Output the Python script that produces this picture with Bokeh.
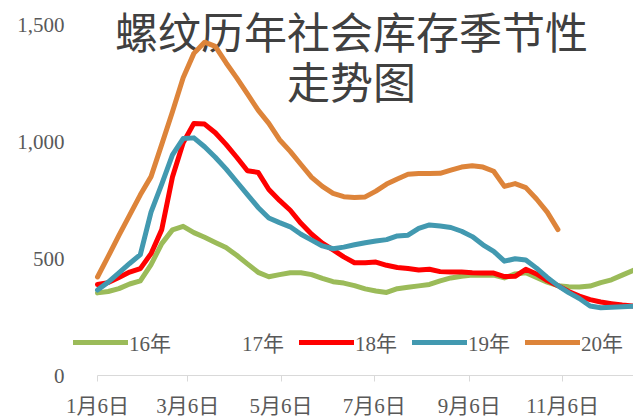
from bokeh.plotting import figure
from bokeh.models import Range1d, FixedTicker, Legend, LegendItem, Label
from bokeh.embed import file_html
from bokeh.resources import INLINE

# ---- data (weekly, days since 1月6日) ----
weeks = list(range(51))
days = [7 * w for w in weeks]

s16 = [354, 360, 372, 392, 405, 475, 565, 624, 639, 612, 592, 570, 548, 515, 478, 442,
       423, 432, 440, 440, 432, 416, 402, 396, 385, 371, 362, 356, 372, 378, 384, 390,
       405, 418, 425, 430, 430, 430, 418, 435, 440, 420, 400, 385, 380, 379, 383, 398,
       410, 430, 450]
s18 = [390, 398, 420, 443, 458, 522, 625, 850, 997, 1080, 1077, 1040, 990, 935, 877, 870,
       797, 750, 708, 652, 605, 567, 538, 508, 483, 483, 486, 472, 463, 458, 452, 455,
       445, 443, 443, 440, 439, 439, 424, 425, 455, 435, 407, 385, 360, 340, 325, 315,
       308, 302, 298]
s19 = [366, 400, 440, 480, 518, 700, 820, 945, 1015, 1018, 980, 935, 885, 830, 775, 720,
       675, 655, 637, 605, 580, 555, 543, 550, 560, 569, 576, 582, 598, 601, 630, 645,
       640, 634, 618, 595, 560, 532, 490, 500, 495, 460, 420, 385, 355, 330, 298, 290,
       292, 294, 297]
s20 = [422, 510, 600, 687, 774, 852, 990, 1130, 1276, 1380, 1428, 1410, 1340, 1275, 1206,
       1137, 1080, 1010, 960, 904, 849, 810, 780, 766, 763, 765, 790, 820, 842, 862, 865,
       865, 866, 880, 893, 899, 893, 875, 810, 822, 805, 756, 700, 625]

series_names = ["16年", "17年", "18年", "19年", "20年"]
series_colors = ["#9BBB59", "#FFFFFF", "#FF0000", "#4299B0", "#DD843A"]

tick_days = [0, 59, 120, 181, 243, 304]
tick_labels = ["1月6日", "3月6日", "5月6日", "7月6日", "9月6日", "11月6日"]
y_ticks = [0, 500, 1000, 1500]
y_labels = ["0", "500", "1,000", "1,500"]

title_lines = ["螺纹历年社会库存季节性", "走势图"]

# ---- figure ----
X_START, X_END = -18.96, 350.4
p = figure(width=633, height=420, output_backend="svg", toolbar_location=None,
           x_range=Range1d(X_START, X_END), y_range=Range1d(0, 1606.5),
           min_border_left=68, min_border_right=0, min_border_top=0, min_border_bottom=43)
p.outline_line_color = None
p.xgrid.visible = False
p.ygrid.visible = False
p.background_fill_color = "white"

serif = "Liberation Serif, Noto Sans CJK SC"

p.xaxis.ticker = FixedTicker(ticks=tick_days)
p.xaxis.bounds = (0, X_END)
p.xaxis.major_label_overrides = {d: l for d, l in zip(tick_days, tick_labels)}
p.xaxis.axis_line_color = "#D9D9D9"
p.xaxis.major_tick_line_color = "#D9D9D9"
p.xaxis.major_tick_out = 6
p.xaxis.major_tick_in = 0
p.xaxis.minor_tick_line_color = None
p.xaxis.major_label_standoff = 12
p.xaxis.major_label_text_font = serif
p.xaxis.major_label_text_font_size = "21px"
p.xaxis.major_label_text_color = "#595959"

p.yaxis.ticker = FixedTicker(ticks=y_ticks)
p.yaxis.major_label_overrides = {t: l for t, l in zip(y_ticks, y_labels)}
p.yaxis.axis_line_color = None
p.yaxis.major_tick_line_color = None
p.yaxis.minor_tick_line_color = None
p.yaxis.major_tick_out = 0
p.yaxis.major_label_standoff = 4
p.yaxis.major_label_text_font = serif
p.yaxis.major_label_text_font_size = "21px"
p.yaxis.major_label_text_color = "#595959"

# title (drawn beneath the lines, as in the reference)
for line_text, yv in zip(title_lines, [1478, 1265]):
    p.add_layout(Label(x=166, y=yv, text=line_text, text_align="center",
                       text_baseline="middle", text_font="Noto Sans CJK SC",
                       text_font_size="43px", text_color="#404040", level="underlay"))

data = [s16, [], s18, s19, s20]
items = []
for name, color, vals in zip(series_names, series_colors, data):
    r = p.line(days[:len(vals)], vals, line_color=color, line_width=5,
               line_join="round", line_cap="round")
    items.append(LegendItem(label=name, renderers=[r]))

legend = Legend(items=items, orientation="horizontal", location=(5, 18),
                glyph_width=55, glyph_height=24, label_height=24, label_width=45,
                label_standoff=1, spacing=12, padding=0, margin=0,
                border_line_color=None, background_fill_alpha=0,
                label_text_font=serif, label_text_font_size="21px",
                label_text_color="#595959")
p.add_layout(legend, "center")

open("out.html", "w").write(file_html(p, INLINE))
